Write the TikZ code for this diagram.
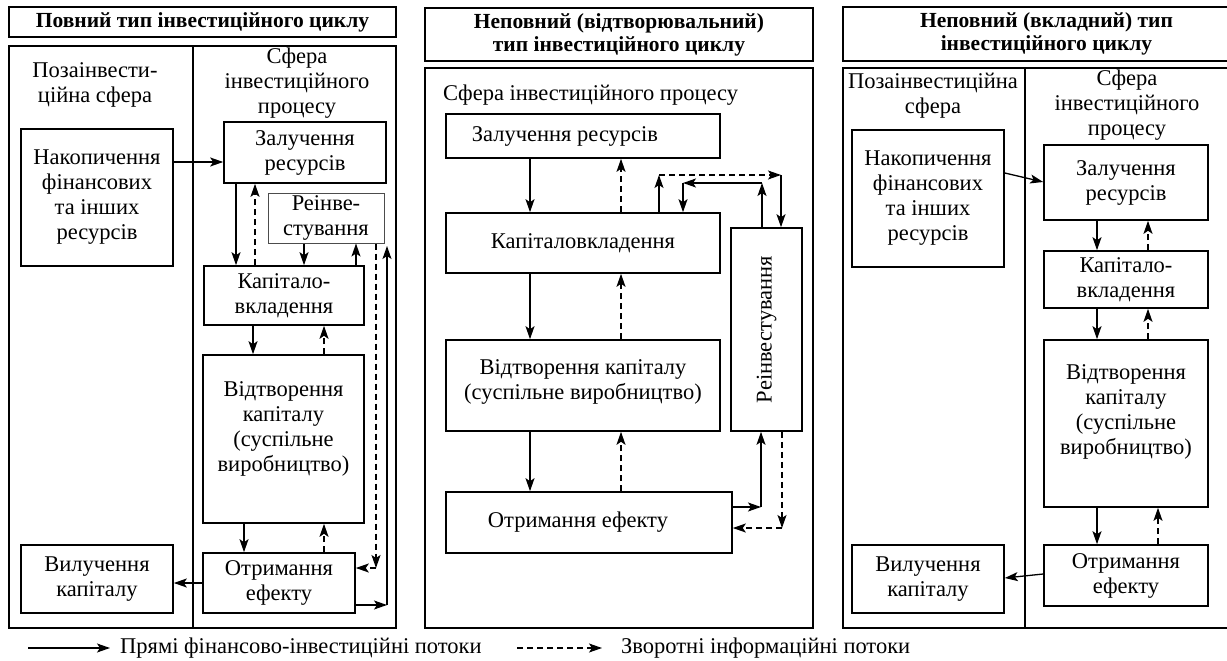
\documentclass[tikz,border=0pt]{standalone}
\usepackage{fontspec}
\setmainfont{Liberation Serif}
\usetikzlibrary{arrows.meta,calc}
\begin{document}
\begin{tikzpicture}[x=1pt,y=-1pt,
  every node/.style={font=\fontsize{22.5}{25}\selectfont, inner sep=0pt},
  box/.style={draw, line width=1.6pt, align=center},
  frame/.style={draw, line width=1.6pt},
  lbl/.style={align=center},
  ttl/.style={align=center, font=\fontsize{21.5}{23}\selectfont\bfseries},
  flow/.style={line width=1.3pt, -{Stealth[length=13pt,width=9pt,inset=3pt]}},
  back/.style={flow, dash pattern=on 6pt off 4pt},
]
\useasboundingbox (0,0) rectangle (1227,661);

% ---------------- Panel 1 ----------------
\node[box, ttl, minimum width=387, minimum height=30] (t1) at (202.5,22) {Повний тип інвестиційного циклу};
\draw[frame] (9,46) rectangle (396,628);
\draw[frame] (193,46) -- (193,628);
\node[lbl] (p1a) at (95,85) {Позаінвести-\\ційна сфера};
\node[lbl] (p1b) at (297,83) {Сфера\\інвестиційного\\процесу};
\node[box, minimum width=152, minimum height=137] (nak1) at (97,197.5) {Накопичення\\фінансових\\та інших\\ресурсів};
\node[box, minimum width=162, minimum height=61] (zal1) at (305,152.5) {Залучення\\ресурсів};
\node[box, draw=black!70, line width=1pt, minimum width=116, minimum height=50] (re1) at (326,218) {Реінве-\\стування};
\node[box, minimum width=160, minimum height=59] (kap1) at (284,295.5) {Капітало-\\вкладення};
\node[box, minimum width=161, minimum height=168] (vid1) at (283.5,439) {Відтворення\\капіталу\\(суспільне\\виробництво)\\\mbox{}};
\node[box, minimum width=152, minimum height=60] (otr1) at (279,583) {Отримання\\ефекту};
\node[box, minimum width=152, minimum height=68] (vil1) at (97,579) {Вилучення\\капіталу};

\draw[flow] (nak1.east |- 0,162) -- (zal1.west |- 0,162);
\draw[flow] (236,0 |- zal1.south) -- (236,0 |- kap1.north);
\draw[back] (255,0 |- kap1.north) -- (255,0 |- zal1.south);
\draw[flow] (304,0 |- re1.south) -- (304,0 |- kap1.north);
\draw[flow] (356,0 |- kap1.north) -- (356,0 |- re1.south);
\draw[flow] (253,0 |- kap1.south) -- (253,0 |- vid1.north);
\draw[back] (324,0 |- vid1.north) -- (324,0 |- kap1.south);
\draw[flow] (244,0 |- vid1.south) -- (244,0 |- otr1.north);
\draw[back] (324,0 |- otr1.north) -- (324,0 |- vid1.south);
\coordinate (c1) at (376,568);
\draw[back] (376,0 |- re1.south) -- (c1);
\draw[back] (c1) -- (otr1.east |- c1);
\coordinate (c2) at (387,605);
\coordinate (c3) at (387,246);
\draw[flow] (otr1.east |- c2) -- (c2);
\draw[flow] (c2) -- (c3);
\draw[flow] (otr1.west |- 0,583) -- (vil1.east |- 0,583);

% ---------------- Panel 2 ----------------
\node[box, ttl, minimum width=388, minimum height=53] (t2) at (619,34.5) {Неповний (відтворювальний)\\тип інвестиційного циклу};
\draw[frame] (425,68) rectangle (813,628);
\node[anchor=west] (p2a) at (443,95) {Сфера інвестиційного процесу};
\node[box, minimum width=274, minimum height=44] (zal2) at (583,136) {Залучення ресурсів\hspace*{36pt}};
\node[box, minimum width=274, minimum height=60] (kap2) at (583,243) {Капіталовкладення};
\node[box, minimum width=274, minimum height=91] (vid2) at (583,385.5) {Відтворення капіталу\\(суспільне виробництво)\\[-14pt]\mbox{}};
\node[box, minimum width=286, minimum height=61] (otr2) at (589,522.5) {Отримання ефекту\hspace*{22pt}};
\node[box, minimum width=71, minimum height=203] (re2) at (766.5,329.5) {};
\node[rotate=90] (re2t) at (re2.center) {Реінвестування};

\draw[flow] (530,0 |- zal2.south) -- (530,0 |- kap2.north);
\draw[back] (621,0 |- kap2.north) -- (621,0 |- zal2.south);
\draw[flow] (530,0 |- kap2.south) -- (530,0 |- vid2.north);
\draw[back] (621,0 |- vid2.north) -- (621,0 |- kap2.south);
\draw[flow] (530,0 |- vid2.south) -- (530,0 |- otr2.north);
\draw[back] (621,0 |- otr2.north) -- (621,0 |- vid2.south);
\coordinate (d1) at (659,175);
\coordinate (d2) at (781,175);
\draw[flow] (d1 |- kap2.north) -- (d1);
\draw[back] (d1) -- (d2);
\draw[flow] (d2) -- (d2 |- re2.north);
\coordinate (e1) at (762,183);
\coordinate (e2) at (683,183);
\draw[flow] (e1 |- re2.north) -- (e1);
\draw[flow] (e1) -- (e2);
\draw[flow] (e2) -- (e2 |- kap2.north);
\coordinate (f1) at (761,507);
\draw[flow] (otr2.east |- f1) -- (f1);
\draw[flow] (f1) -- (f1 |- re2.south);
\coordinate (g1) at (782,528);
\draw[back] (g1 |- re2.south) -- (g1);
\draw[back] (g1) -- (otr2.east |- g1);

% ---------------- Panel 3 ----------------
\draw[frame] (1228,7) -- (843,7) -- (843,61) -- (1228,61);
\node[ttl] (t3) at (1046.5,34) {Неповний (вкладний) тип\\інвестиційного циклу};
\draw[frame] (1228,68) -- (843,68) -- (843,628) -- (1228,628);
\draw[frame] (1025,68) -- (1025,628);
\node[lbl] (p3a) at (933,96) {Позаінвестиційна\\сфера};
\node[lbl] (p3b) at (1127,105) {Сфера\\інвестиційного\\процесу};
\node[box, minimum width=152, minimum height=137] (nak3) at (928,198.5) {Накопичення\\фінансових\\та інших\\ресурсів};
\node[box, minimum width=164, minimum height=75] (zal3) at (1126,182.5) {Залучення\\ресурсів};
\node[box, minimum width=164, minimum height=57] (kap3) at (1126,279.5) {Капітало-\\вкладення};
\node[box, minimum width=164, minimum height=167] (vid3) at (1126,423.5) {Відтворення\\капіталу\\(суспільне\\виробництво)\\[3pt]\mbox{}};
\node[box, minimum width=164, minimum height=61] (otr3) at (1126,575.5) {Отримання\\ефекту};
\node[box, minimum width=152, minimum height=68] (vil3) at (928,579) {Вилучення\\капіталу};

\draw[flow] (nak3.east |- 0,173) -- (zal3.west |- 0,182);
\draw[flow] (otr3.west |- 0,574) -- (vil3.east |- 0,578);
\draw[flow] (1097,0 |- zal3.south) -- (1097,0 |- kap3.north);
\draw[back] (1148,0 |- kap3.north) -- (1148,0 |- zal3.south);
\draw[flow] (1097,0 |- kap3.south) -- (1097,0 |- vid3.north);
\draw[back] (1148,0 |- vid3.north) -- (1148,0 |- kap3.south);
\draw[flow] (1097,0 |- vid3.south) -- (1097,0 |- otr3.north);
\draw[back] (1158,0 |- otr3.north) -- (1158,0 |- vid3.south);

% ---------------- Legend ----------------
\coordinate (la) at (28,648);
\coordinate (lb) at (110,648);
\draw[flow] (la) -- (lb);
\node[anchor=west] (lt1) at (120,648) {Прямі фінансово-інвестиційні потоки};
\coordinate (lc) at (517,648);
\coordinate (ld) at (602,648);
\draw[back] (lc) -- (ld);
\node[anchor=west] (lt2) at (621,648) {Зворотні інформаційні потоки};
\end{tikzpicture}
\end{document}
